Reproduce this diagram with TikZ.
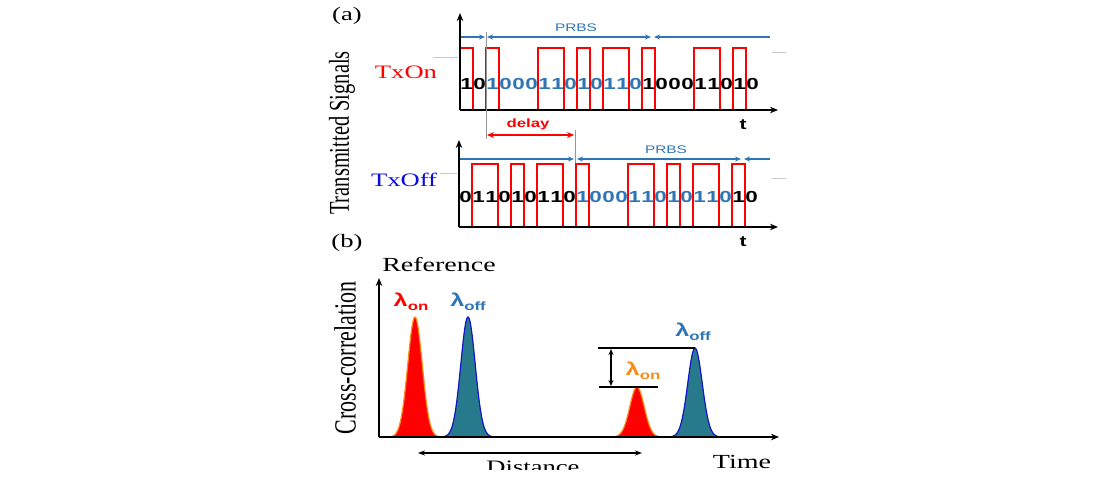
\documentclass[tikz,border=0pt]{standalone}
\usepackage{fontspec}
\setmainfont{Liberation Serif}
\newfontfamily\arialf{Liberation Sans}
\usetikzlibrary{arrows.meta}
\definecolor{prbs}{RGB}{46,117,182}
\definecolor{txoffblue}{RGB}{10,10,225}
\definecolor{tealfill}{RGB}{38,122,140}
\definecolor{peakblue}{RGB}{20,20,200}
\definecolor{orng}{RGB}{250,140,20}
\definecolor{lgray}{RGB}{200,200,200}
\definecolor{mgray}{RGB}{150,150,150}
\newcommand{\hs}[1]{\scalebox{1.4}[1]{#1}}
\tikzset{ptip/.tip={Stealth[length=6pt,width=5pt]}}
\begin{document}
\begin{tikzpicture}[x=1pt,y=-1pt,
  lbl/.style={inner sep=0pt,anchor=center},
  digit/.style={inner sep=0pt,anchor=center,font=\arialf\bfseries\fontsize{16}{16}\selectfont},
  wave/.style={draw=red,line width=1.8pt,line join=miter},
  axis/.style={draw=black,line width=2pt,-{Stealth[length=8pt,width=6.5pt]}},
  prbsline/.style={draw=prbs,line width=1.3pt},
  guide/.style={draw=mgray,line width=1pt},
  tick/.style={draw=lgray,line width=1pt},
  peak/.style={line width=1.2pt},
  lam/.style={inner sep=0pt,anchor=center,font=\arialf\bfseries}
]
\fill[white] (0,0) rectangle (1100,477);
\useasboundingbox (0,0) rectangle (1100,477);

% ---------------- (a) labels
\node[lbl,font=\fontsize{19}{19}\selectfont] (alab) at (347,16) {\hs{(a)}};
\node[lbl,font=\fontsize{20.5}{20.5}\selectfont] (tsig) at (342,133) {\hs{\rotatebox{90}{Transmitted Signals}}};
\node[lbl,font=\fontsize{19}{19}\selectfont,text=red] (txon) at (406,72) {\hs{TxOn}};
\node[lbl,font=\fontsize{19}{19}\selectfont,text=txoffblue] (txoff) at (404,180) {\hs{TxOff}};

% gray ticks
\coordinate (g1a) at (433,57); \coordinate (g1b) at (458,57);
\coordinate (g2a) at (772,52); \coordinate (g2b) at (786,52);
\coordinate (g3a) at (440,173); \coordinate (g3b) at (457,173);
\coordinate (g4a) at (772,178); \coordinate (g4b) at (786,178);
\draw[tick] (g1a) -- (g1b);
\draw[tick] (g2a) -- (g2b);
\draw[tick] (g3a) -- (g3b);
\draw[tick] (g4a) -- (g4b);

% ---------------- TxOn waveform
\foreach \s/\e in {0/1,2/3,6/8,9/10,11/13,14/15,18/20,21/22}
  \draw[wave] ({460+13*\s},110) -- ({460+13*\s},48) -- ({460+13*\e},48) -- ({460+13*\e},110);
\foreach \b [count=\i from 0] in {1,0,1,0,0,0,1,1,0,1,0,1,1,0,1,0,0,0,1,1,0,1,0} {
  \pgfmathsetmacro\xx{460+13*\i+6.5}
  \ifnum\i<2 \def\cc{black}\else\ifnum\i<14 \def\cc{prbs}\else\def\cc{black}\fi\fi
  \node[digit,text=\cc] (on\i) at (\xx,84) {\hs{\b}};
}
% TxOn axes
\coordinate (o1) at (460,110); \coordinate (o1y) at (460,13); \coordinate (o1x) at (778,110);
\draw[axis] (o1) -- (o1y);
\draw[axis] (o1) -- (o1x);
\node[digit,font=\arialf\bfseries\fontsize{15}{15}\selectfont] (t1) at (743,125) {\hs{t}};

% TxOn PRBS arrows
\coordinate (p1a) at (461,37); \coordinate (p1b) at (485,37);
\coordinate (p1c) at (487,37); \coordinate (p1d) at (651,37);
\coordinate (p1e) at (654,37); \coordinate (p1f) at (770,37);
\draw[prbsline,-{ptip}] (p1a) -- (p1b);
\draw[prbsline,{ptip}-{ptip}] (p1c) -- (p1d);
\draw[prbsline,{ptip}-] (p1e) -- (p1f);
\node[lbl,font=\arialf\fontsize{11}{11}\selectfont,text=prbs] (prbs1) at (576,28) {\hs{PRBS}};

% delay
\coordinate (v1a) at (486,32); \coordinate (v1b) at (486,139);
\coordinate (v2a) at (575,130); \coordinate (v2b) at (575,227);
\draw[guide] (v1a) -- (v1b);
\draw[guide] (v2a) -- (v2b);
\coordinate (d1) at (487,135); \coordinate (d2) at (574,135);
\draw[draw=red,line width=1.8pt,{Stealth[length=7pt,width=6pt]}-{Stealth[length=7pt,width=6pt]}] (d1) -- (d2);
\node[lbl,font=\arialf\bfseries\fontsize{12}{12}\selectfont,text=red] (delay) at (528,124) {\hs{delay}};

% ---------------- TxOff waveform
\foreach \s/\e in {1/3,4/5,6/8,9/10,13/15,16/17,18/20,21/22}
  \draw[wave] ({459+13*\s},227) -- ({459+13*\s},164) -- ({459+13*\e},164) -- ({459+13*\e},227);
\foreach \b [count=\i from 0] in {0,1,1,0,1,0,1,1,0,1,0,0,0,1,1,0,1,0,1,1,0,1,0} {
  \pgfmathsetmacro\xx{459+13*\i+6.5}
  \ifnum\i<9 \def\cc{black}\else\ifnum\i<21 \def\cc{prbs}\else\def\cc{black}\fi\fi
  \node[digit,text=\cc] (off\i) at (\xx,197) {\hs{\b}};
}
\coordinate (o2) at (459,227); \coordinate (o2y) at (459,140); \coordinate (o2x) at (778,227);
\draw[axis] (o2) -- (o2y);
\draw[axis] (o2) -- (o2x);
\node[digit,font=\arialf\bfseries\fontsize{15}{15}\selectfont] (t2) at (743,242) {\hs{t}};

\coordinate (p2a) at (460,159); \coordinate (p2b) at (574,159);
\coordinate (p2c) at (577,159); \coordinate (p2d) at (741,159);
\coordinate (p2e) at (744,159); \coordinate (p2f) at (770,159);
\draw[prbsline,-{ptip}] (p2a) -- (p2b);
\draw[prbsline,{ptip}-{ptip}] (p2c) -- (p2d);
\draw[prbsline,{ptip}-] (p2e) -- (p2f);
\node[lbl,font=\arialf\fontsize{11}{11}\selectfont,text=prbs] (prbs2) at (666,150) {\hs{PRBS}};

% ---------------- (b)
\node[lbl,font=\fontsize{19}{19}\selectfont] (blab) at (347,243) {\hs{(b)}};
\node[lbl,font=\fontsize{20}{20}\selectfont] (ref) at (439,265) {\hs{Reference}};
\node[lbl,font=\fontsize{22}{22}\selectfont] (cc) at (345,358) {\hs{\rotatebox{90}{Cross-correlation}}};

% peaks
\fill[red,draw=orng,peak] plot[domain=-27:27,samples=81] ({415+\x},{437-120*exp(-(\x*\x)/104)}) -- cycle;
\fill[tealfill,draw=peakblue,peak] plot[domain=-27:27,samples=81] ({468+\x},{437-120*exp(-(\x*\x)/104)}) -- cycle;
\fill[red,draw=orng,peak] plot[domain=-27:27,samples=81] ({637+\x},{437-50*exp(-(\x*\x)/104)}) -- cycle;
\fill[tealfill,draw=peakblue,peak] plot[domain=-27:27,samples=81] ({695+\x},{437-89*exp(-(\x*\x)/104)}) -- cycle;

% axes (b)
\coordinate (o3) at (379,437); \coordinate (o3y) at (379,278); \coordinate (o3x) at (779,437);
\draw[axis] (o3) -- (o3y);
\draw[axis] (o3) -- (o3x);
\node[lbl,font=\fontsize{20}{20}\selectfont] (time) at (742,462) {\hs{Time}};

% ratio marker
\coordinate (r1a) at (598,348); \coordinate (r1b) at (695,348);
\coordinate (r2a) at (599,387); \coordinate (r2b) at (658,387);
\coordinate (r3a) at (611,349); \coordinate (r3b) at (611,386);
\draw[line width=1.6pt] (r1a) -- (r1b);
\draw[line width=1.6pt] (r2a) -- (r2b);
\draw[line width=2pt,{Stealth[length=6pt,width=5pt]}-{Stealth[length=6pt,width=5pt]}] (r3a) -- (r3b);

% lambda labels
\node[lam,text=red] (lon1) at (411,302) {\hs{\fontsize{18}{18}\selectfont λ\raisebox{-3.5pt}{\fontsize{12}{12}\selectfont on}}};
\node[lam,text=prbs] (loff1) at (468,302) {\hs{\fontsize{18}{18}\selectfont λ\raisebox{-3.5pt}{\fontsize{12}{12}\selectfont off}}};
\node[lam,text=orng] (lon2) at (643,371) {\hs{\fontsize{18}{18}\selectfont λ\raisebox{-3.5pt}{\fontsize{12}{12}\selectfont on}}};
\node[lam,text=prbs] (loff2) at (693,332) {\hs{\fontsize{18}{18}\selectfont λ\raisebox{-3.5pt}{\fontsize{12}{12}\selectfont off}}};

% distance
\coordinate (ds1) at (418,453); \coordinate (ds2) at (642,453);
\draw[line width=1.6pt,{Stealth[length=7pt,width=5pt]}-{Stealth[length=7pt,width=5pt]}] (ds1) -- (ds2);
\node[lbl,anchor=base,font=\fontsize{19}{19}\selectfont] (dist) at (533,473) {\hs{Distance}};
\fill[white] (0,470) rectangle (1100,477);
\end{tikzpicture}
\end{document}
